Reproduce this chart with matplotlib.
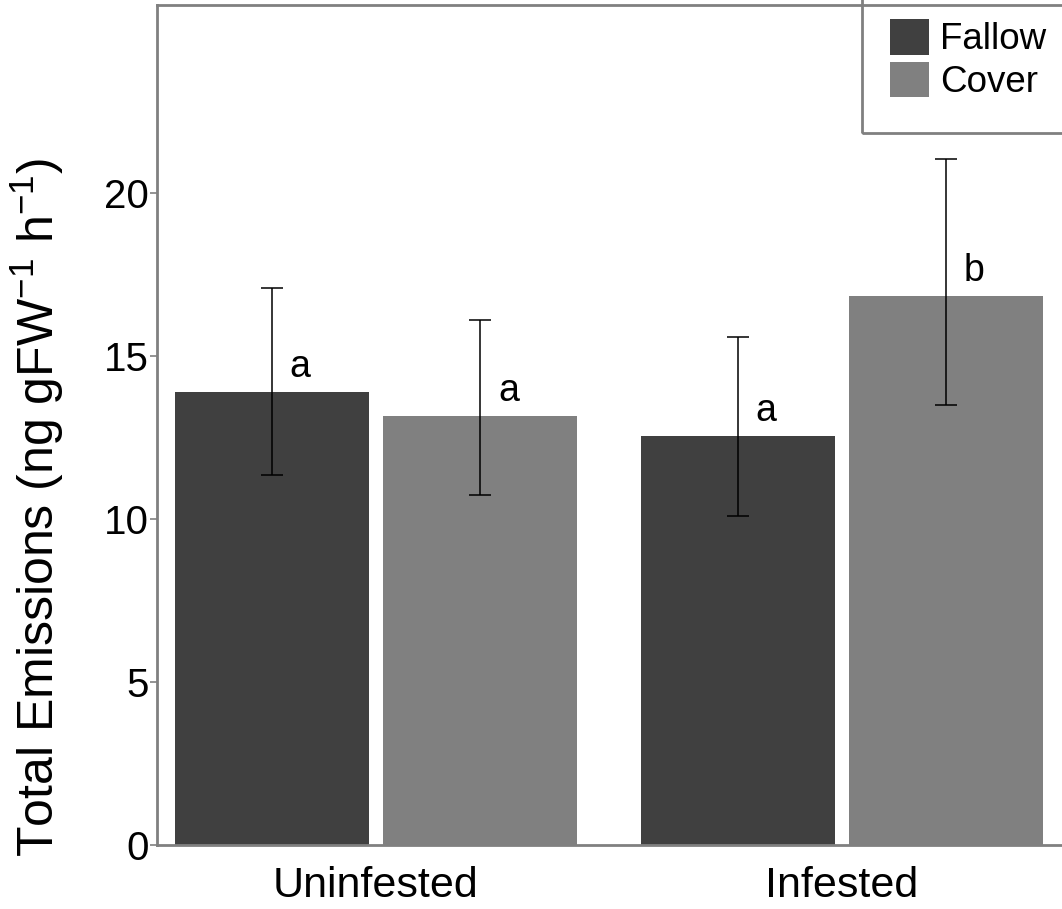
import numpy as np
import matplotlib
matplotlib.use("Agg")
import matplotlib.pyplot as plt
from matplotlib.patches import Rectangle

# data
groups = ["Uninfested", "Infested"]
treatments = ["Fallow", "Cover"]
means = {"Fallow": [13.9, 12.55], "Cover": [13.15, 16.85]}
err_low = {"Fallow": [11.35, 10.1], "Cover": [10.75, 13.5]}
err_high = {"Fallow": [17.1, 15.6], "Cover": [16.1, 21.05]}
letters = {"Fallow": ["a", "a"], "Cover": ["a", "b"]}
colors = {"Fallow": "#404040", "Cover": "#808080"}

plt.rcParams["font.family"] = ["Liberation Sans", "DejaVu Sans"]
plt.rcParams["mathtext.fontset"] = "custom"
plt.rcParams["mathtext.rm"] = "Liberation Sans"
plt.rcParams["mathtext.it"] = "Liberation Sans"

fig = plt.figure(figsize=(10.62, 9.09), dpi=100)
ax = fig.add_axes([0.1478, 0.0704, 0.8522, 0.9241])

x = np.arange(1, len(groups) + 1)
offsets = {"Fallow": -0.224, "Cover": 0.224}
bar_w = 0.416

for t in treatments:
    xs = x + offsets[t]
    m = np.array(means[t])
    lo = m - np.array(err_low[t])
    hi = np.array(err_high[t]) - m
    ax.bar(xs, m, width=bar_w, color=colors[t], label=t, zorder=2)
    ax.errorbar(xs, m, yerr=[lo, hi], fmt="none", ecolor="black",
                elinewidth=1.1, capsize=8, capthick=1.1, zorder=3)
    for xi, mi, lab in zip(xs, m, letters[t]):
        ax.text(xi + 0.06, mi + 0.22, lab, fontsize=27, ha="center",
                va="bottom", zorder=4)

ax.set_xlim(0.53, 2.472)
ax.set_ylim(0, 25.77)
ax.set_yticks([0, 5, 10, 15, 20])
ax.set_xticks(x)
ax.set_xticklabels(groups)
ax.tick_params(axis="y", labelsize=29, length=5, width=1.2, color="#808080", pad=1)
ax.tick_params(axis="x", labelsize=31, length=0, pad=15)

ax.set_ylabel(r"Total Emissions (ng gFW$^{\mathregular{-1}}$ h$^{\mathregular{-1}}$)",
              fontsize=36)
ax.yaxis.set_label_coords(-0.10, 0.402)

for s in ["left", "bottom", "top"]:
    ax.spines[s].set_color("#808080")
    ax.spines[s].set_linewidth(2)
ax.spines["right"].set_visible(False)

leg = ax.legend(loc="upper left", bbox_to_anchor=(0.810, 0.9833), fontsize=26.5,
                frameon=False, borderaxespad=0, borderpad=0, handlelength=1.06,
                handleheight=1.11, handletextpad=0.3, labelspacing=0.12)
ax.add_patch(Rectangle((0.779, 0.8476), 0.25, 0.16, transform=ax.transAxes,
                       facecolor="none", edgecolor="#808080", linewidth=2,
                       clip_on=False, zorder=5))

fig.savefig("out.png", dpi=100)
